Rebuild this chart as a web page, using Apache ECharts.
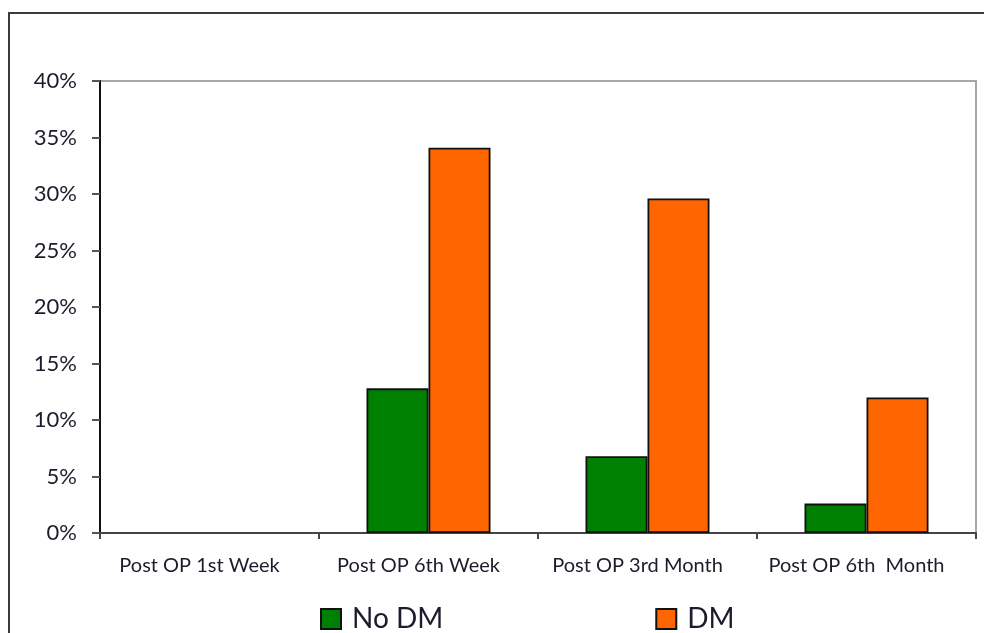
<!DOCTYPE html>
<html>
<head>
<meta charset="utf-8">
<title>Post OP</title>
<script src="https://cdn.jsdelivr.net/npm/echarts@6/dist/echarts.min.js"></script>
<style>
  html, body { margin: 0; padding: 0; background: #fff; }
  #chart { width: 984px; height: 633px; }
</style>
</head>
<body>
<div id="chart"></div>
<script>
// Follow-up time points
const categories = ['Post OP 1st Week', 'Post OP 6th Week', 'Post OP 3rd Month', 'Post OP 6th  Month'];
// Share of patients per group (fractions)
const noDM = [0, 0.128, 0.068, 0.026];
const dm = [0, 0.341, 0.296, 0.12];
const seriesNames = ['No DM', 'DM'];
const yTicks = { min: 0, max: 0.4, step: 0.05 };

const font = 'Lato, "Open Sans", sans-serif';
const textColor = '#1c1c2c';

// Zero-height bars get no outline so nothing shows on the baseline
const toItems = arr => arr.map(v => (v === 0 ? { value: v, itemStyle: { borderWidth: 0 } } : v));

const chart = echarts.init(document.getElementById('chart'), null, { renderer: 'canvas' });
chart.setOption({
  animation: false,
  backgroundColor: '#fff',
  graphic: [{
    type: 'rect',
    shape: { x: 9, y: 13, width: 1200, height: 800 },
    style: { fill: 'none', stroke: '#3a3a3a', lineWidth: 2 },
    silent: true,
    z: -1
  }],
  grid: {
    left: 100, right: 8, top: 81, bottom: 100,
    show: true,
    borderColor: '#a6a6a6',
    borderWidth: 2,
    backgroundColor: 'transparent'
  },
  legend: {
    data: seriesNames,
    left: 320,
    top: 605,
    padding: 0,
    itemWidth: 20,
    itemHeight: 20,
    itemGap: 212,
    icon: 'rect',
    textStyle: { fontFamily: font, fontSize: 28, color: textColor, padding: [0, 0, 0, 6] }
  },
  xAxis: {
    type: 'category',
    data: categories,
    boundaryGap: true,
    axisLine: { lineStyle: { color: '#444', width: 2 } },
    axisTick: { show: true, interval: 0, length: 6, lineStyle: { color: '#444', width: 2 } },
    axisLabel: {
      interval: 0, fontFamily: font, fontSize: 20, color: textColor, margin: 23,
      padding: [0, 20, 0, 0]
    },
    splitLine: { show: false }
  },
  yAxis: {
    type: 'value',
    min: yTicks.min,
    max: yTicks.max,
    interval: yTicks.step,
    axisLine: { show: true, lineStyle: { color: '#111', width: 2 } },
    axisTick: { show: true, length: 8, lineStyle: { color: '#555', width: 2 } },
    axisLabel: {
      fontFamily: font, fontSize: 22, color: textColor, margin: 23,
      formatter: v => Math.round(v * 100) + '%'
    },
    splitLine: { show: false }
  },
  series: [
    {
      name: seriesNames[0],
      type: 'bar',
      data: toItems(noDM),
      barWidth: 62,
      barGap: '0%',
      itemStyle: { color: '#008000', borderColor: '#111', borderWidth: 1.8 }
    },
    {
      name: seriesNames[1],
      type: 'bar',
      data: toItems(dm),
      barWidth: 62,
      barGap: '0%',
      itemStyle: { color: '#FF6600', borderColor: '#111', borderWidth: 1.8 }
    }
  ]
});
</script>
</body>
</html>
